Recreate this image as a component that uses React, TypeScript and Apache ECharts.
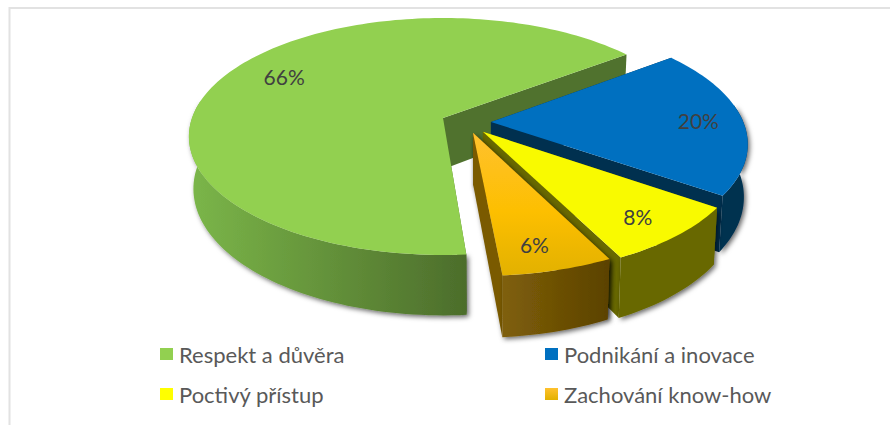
import React, { useEffect, useRef } from "react";
import * as echarts from "echarts";

const categories = ["Respekt a důvěra", "Podnikání a inovace", "Poctivý přístup", "Zachování know-how"];
const values = [66, 20, 8, 6];
const leftColumn = [categories[0], categories[2]];
const rightColumn = [categories[1], categories[3]];

const labelRadius = [0.77, 0.82, 0.86, 0.87];
const labelShift = [[9, -7], [1, 0], [-9, -3], [-11, -5]];

const CX = 443, CY = 118, RX = 251, RY = 115.6, PERSP = 0.156, DEPTH = 51, VX = 490, SHRINK = 0.985;
const START = 175.5;
const explode = [[0, 0], [0.19, 0.034], [0.156, 0.117], [0.117, 0.126]];

const G = (x1: number, y1: number, x2: number, y2: number, stops: [number, string][]) =>
  new echarts.graphic.LinearGradient(x1, y1, x2, y2, stops.map(([offset, color]) => ({ offset, color })), true);

const topFill = ["#92d050", "#0070c0", "#f9fa00", G(0, 133, 0, 276, [[0, "#ffc12e"], [0.55, "#fdbf00"], [1, "#e2b100"]])];
const sideFill = [
  G(190, 0, 467, 0, [[0, "#7bb649"], [1, "#4c6d2b"]]),
  "#00304f",
  "#686800",
  G(500, 0, 606, 0, [[0, "#80600a"], [1, "#5c4300"]]),
];
const cutFill = ["#50722e", "#00304f", "#686800", "#7a5a00"];
const cutShadow = [false, false, false, true];
const legendFill = ["#92d050", "#0070c0", "#ffff00", new echarts.graphic.LinearGradient(0, 0, 0, 1, [{ offset: 0, color: "#ffc12e" }, { offset: 1, color: "#e2b100" }])];

const total = values.reduce((a, b) => a + b, 0);
const FONT = "Lato, sans-serif";

function project(i: number, deg: number, r: number, down: boolean): number[] {
  const a = (deg * Math.PI) / 180;
  const u = explode[i][0] + r * Math.sin(a);
  const v = explode[i][1] - r * Math.cos(a);
  const s = 1 / (1 - PERSP * v);
  const x = CX + RX * u * s;
  const y = CY + RY * v * s;
  return down ? [VX + (x - VX) * SHRINK, y + DEPTH * s] : [x, y];
}

function renderSlice(i: number) {
  return (_p: any, api: any) => {
    const value = api.value(0);
    const before = values.slice(0, i).reduce((a, b) => a + b, 0);
    const from = START + (before / total) * 360;
    const sweep = (value / total) * 360;
    const n = Math.ceil(sweep / 1.5);
    const arc: number[] = [];
    for (let k = 0; k <= n; k++) arc.push(from + (sweep * k) / n);
    const topArc = arc.map((d) => project(i, d, 1, false));
    const front = arc.filter((d) => Math.cos((d * Math.PI) / 180) <= 0.15);
    const frontTop = front.map((d) => project(i, d, 1, false));
    const frontBot = front.map((d) => project(i, d, 1, true));
    const apex = project(i, 0, 0, false);
    const apexB = project(i, 0, 0, true);
    const shadow = { shadowBlur: 5, shadowColor: "rgba(0,0,0,0.6)", shadowOffsetX: 2, shadowOffsetY: 2 };
    const cut = cutShadow[i] ? shadow : {};
    const mid = from + sweep / 2;
    const lab = project(i, mid, labelRadius[i], false);
    const endTop = project(i, from, 1, false), endBot = project(i, from, 1, true);
    const end2Top = project(i, from + sweep, 1, false), end2Bot = project(i, from + sweep, 1, true);
    return {
      type: "group",
      children: [
        { type: "polygon", shape: { points: [apex, endTop, endBot, apexB] }, style: { fill: cutFill[i], ...cut } },
        { type: "polygon", shape: { points: [apex, end2Top, end2Bot, apexB] }, style: { fill: cutFill[i], ...cut } },
        { type: "polygon", shape: { points: [...frontTop, ...frontBot.slice().reverse()] }, style: { fill: sideFill[i], ...shadow } },
        { type: "polygon", shape: { points: [apex, ...topArc] }, style: { fill: topFill[i] } },
        {
          type: "text",
          x: lab[0] + labelShift[i][0],
          y: lab[1] + labelShift[i][1],
          style: { text: `${value}%`, fill: "#404040", font: `21px ${FONT}`, align: "center", verticalAlign: "middle" },
        },
      ],
    };
  };
}

export default function App() {
  const ref = useRef<HTMLDivElement>(null);
  useEffect(() => {
    const chart = echarts.init(ref.current!, undefined, { renderer: "svg" });
    const legendBase = {
      orient: "vertical",
      top: 343,
      itemWidth: 13,
      itemHeight: 12,
      itemGap: 18,
      icon: "rect",
      selectedMode: false,
      textStyle: { color: "#595959", fontFamily: FONT, fontSize: 22, padding: [0, 0, 0, 1] },
      padding: 0,
    };
    chart.setOption({
      animation: false,
      backgroundColor: "#ffffff",
      legend: [
        { ...legendBase, left: 160, data: leftColumn },
        { ...legendBase, left: 545, data: rightColumn },
      ],
      graphic: [
        {
          type: "polyline",
          shape: { points: [[9.5, 425], [9.5, 8], [890, 8]] },
          style: { stroke: "#e2e2e2", lineWidth: 2, fill: "none" },
          silent: true,
        },
      ],
      series: categories.map((name, i) => ({
        type: "custom",
        name,
        coordinateSystem: "none",
        itemStyle: { color: legendFill[i] },
        data: [[values[i]]],
        renderItem: renderSlice(i),
        silent: true,
      })),
    });
    return () => chart.dispose();
  }, []);
  return <div ref={ref} style={{ position: "absolute", left: 0, top: 0, width: 890, height: 425 }} />;
}
